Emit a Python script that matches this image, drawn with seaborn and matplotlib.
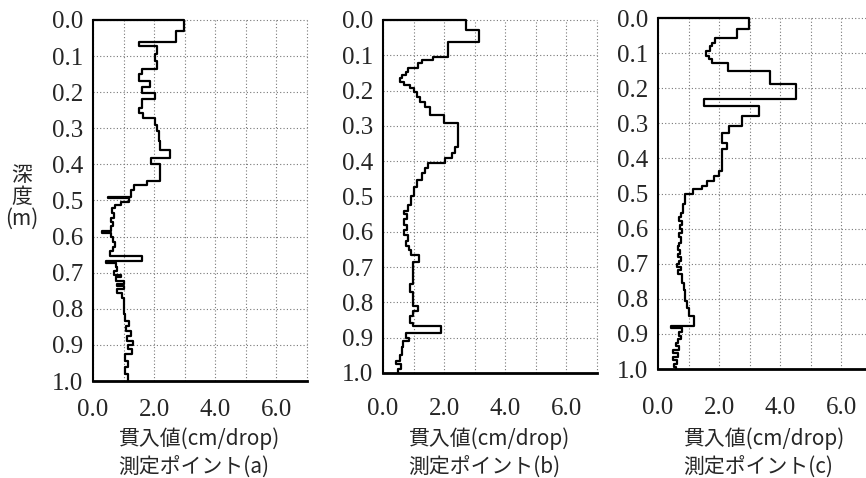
"""
Cone penetration profiles (depth vs penetration per drop) at three points.
"""
import matplotlib
matplotlib.use('Agg')
import matplotlib.pyplot as plt
import matplotlib.transforms as mtransforms
import seaborn as sns

# depth (m) where each reading starts, and penetration value (cm/drop)
depth_a = [0.000, 0.031, 0.060, 0.072, 0.095, 0.114, 0.137, 0.151, 0.169, 0.185,
           0.202, 0.220, 0.243, 0.257, 0.271, 0.290, 0.308, 0.336, 0.360, 0.382,
           0.400, 0.445, 0.458, 0.470, 0.489, 0.493, 0.503, 0.512, 0.522, 0.535,
           0.548, 0.560, 0.572, 0.585, 0.590, 0.602, 0.615, 0.628, 0.640, 0.653,
           0.668, 0.672, 0.685, 0.695, 0.705, 0.712, 0.722, 0.730, 0.738, 0.746,
           0.755, 0.770, 0.790, 0.815, 0.835, 0.848, 0.862, 0.875, 0.890, 0.900,
           0.912, 0.925, 0.945, 0.962, 0.980]
value_a = [2.97, 2.70, 1.52, 2.10, 2.02, 2.10, 1.61, 1.52, 1.88, 1.61,
           2.02, 1.61, 1.52, 1.64, 2.02, 2.10, 2.15, 2.20, 2.51, 1.90,
           2.20, 1.77, 1.34, 1.23, 0.50, 1.17, 0.90, 0.72, 0.62, 0.70,
           0.58, 0.66, 0.60, 0.28, 0.58, 0.66, 0.72, 0.64, 0.55, 1.61,
           0.44, 0.74, 0.80, 0.70, 0.92, 0.74, 1.00, 0.78, 1.02, 0.80,
           0.95, 1.00, 1.02, 1.06, 1.18, 1.08, 1.25, 1.12, 1.30, 1.15,
           1.26, 1.06, 1.16, 1.04, 1.14]

depth_b = [0.000, 0.027, 0.061, 0.104, 0.113, 0.123, 0.137, 0.146, 0.156, 0.165,
           0.175, 0.184, 0.193, 0.203, 0.217, 0.231, 0.246, 0.269, 0.291, 0.359,
           0.378, 0.392, 0.406, 0.420, 0.434, 0.453, 0.472, 0.500, 0.524, 0.540,
           0.550, 0.565, 0.580, 0.595, 0.610, 0.625, 0.640, 0.652, 0.666, 0.686,
           0.747, 0.771, 0.810, 0.824, 0.838, 0.857, 0.868, 0.888, 0.900, 0.910,
           0.925, 0.950, 0.965, 0.975, 0.990]
value_b = [2.73, 3.13, 2.14, 1.65, 1.27, 1.16, 0.83, 0.76, 0.61, 0.54,
           0.67, 0.89, 1.00, 1.11, 1.22, 1.38, 1.55, 1.99, 2.44, 2.37,
           2.26, 2.02, 1.46, 1.38, 1.27, 1.11, 1.00, 0.91, 0.83, 0.68,
           0.80, 0.70, 0.78, 0.70, 0.82, 0.74, 0.85, 0.90, 1.18, 0.98,
           0.89, 0.98, 1.16, 0.98, 0.89, 0.98, 1.88, 0.74, 0.86, 0.66,
           0.62, 0.55, 0.44, 0.60, 0.50]

depth_c = [0.000, 0.030, 0.057, 0.071, 0.080, 0.095, 0.109, 0.118, 0.128, 0.152,
           0.188, 0.232, 0.251, 0.280, 0.308, 0.327, 0.355, 0.374, 0.436, 0.450,
           0.464, 0.479, 0.488, 0.502, 0.531, 0.555, 0.568, 0.578, 0.590, 0.600,
           0.612, 0.625, 0.640, 0.650, 0.662, 0.672, 0.682, 0.692, 0.700, 0.708,
           0.718, 0.728, 0.740, 0.755, 0.775, 0.790, 0.805, 0.825, 0.848, 0.878,
           0.882, 0.895, 0.905, 0.915, 0.925, 0.935, 0.945, 0.955, 0.965, 0.975,
           0.985, 0.993]
value_c = [2.97, 2.59, 1.88, 1.78, 1.69, 1.58, 1.67, 1.78, 2.30, 3.67,
           4.51, 1.51, 3.29, 2.75, 2.32, 2.10, 2.26, 2.10, 1.99, 1.83,
           1.61, 1.45, 1.13, 0.89, 0.82, 0.76, 0.70, 0.80, 0.72, 0.80,
           0.70, 0.74, 0.70, 0.66, 0.72, 0.64, 0.74, 0.68, 0.62, 0.74,
           0.66, 0.78, 0.80, 0.84, 0.88, 0.90, 0.96, 1.02, 1.18, 0.42,
           0.80, 0.70, 0.76, 0.64, 0.58, 0.70, 0.50, 0.66, 0.48, 0.62,
           0.52, 0.58]

point_names = ['測定ポイント(a)', '測定ポイント(b)', '測定ポイント(c)']
x_ticks = [0, 1, 2, 3, 4, 5, 6, 7]
x_tick_labels = ['0.0', '', '2.0', '', '4.0', '', '6.0', '']
y_ticks = [0.0, 0.1, 0.2, 0.3, 0.4, 0.5, 0.6, 0.7, 0.8, 0.9, 1.0]
y_tick_labels = ['%.1f' % t for t in y_ticks]
x_title = '貫入値(cm/drop)'
y_title = '深\n度\n(m)'


def staircase(depths, values, bottom=1.0):
    """Turn (start depth, value) readings into a vertical step outline."""
    xs, ys = [0.0], [0.0]
    lows = list(depths[1:]) + [bottom]
    for v, top, low in zip(values, depths, lows):
        xs += [v, v]
        ys += [top, low]
    return xs, ys


sns.set_style('white')
plt.rcParams['font.family'] = ['Noto Sans CJK JP', 'DejaVu Sans']

fig = plt.figure(figsize=(8.66, 4.78), dpi=100)

# scanned original: each panel sits a little differently
panel_pos = [(0.1074, 0.2029, 0.2471, 0.7553),
             (0.4423, 0.2197, 0.2471, 0.7385),
             (0.7598, 0.2280, 0.2471, 0.7343)]
x_pads = [13, 18, 20]
profiles = [(depth_a, value_a), (depth_b, value_b), (depth_c, value_c)]

for pos, pad, (depths, values), name in zip(panel_pos, x_pads, profiles, point_names):
    ax = fig.add_axes(pos)
    xs, ys = staircase(depths, values)
    sns.lineplot(x=xs, y=ys, sort=False, estimator=None, ax=ax,
                 color='black', linewidth=1.6)
    ax.lines[-1].set_clip_on(False)

    ax.set_xlim(0, 7)
    ax.set_ylim(1.0, 0.0)
    ax.set_xticks(x_ticks)
    ax.set_xticklabels(x_tick_labels, fontfamily='Liberation Serif', fontsize=18)
    ax.set_yticks(y_ticks)
    ax.set_yticklabels(y_tick_labels, fontfamily='Liberation Serif', fontsize=18)
    ax.tick_params(axis='x', length=0, pad=pad)
    ax.tick_params(axis='y', length=0, pad=7)
    ax.set_xlabel('')
    ax.set_ylabel('')

    ax.grid(True, color='#777777', linestyle=(0, (1, 2)), linewidth=0.8)
    for gl in ax.get_xgridlines() + ax.get_ygridlines():
        gl.set_clip_on(False)

    for side in ['top', 'right']:
        ax.spines[side].set_visible(False)
    ax.spines['left'].set_color('black')
    ax.spines['left'].set_linewidth(1.5)
    ax.spines['bottom'].set_color('black')
    ax.spines['bottom'].set_linewidth(2.0)

    trans = mtransforms.blended_transform_factory(ax.transAxes, fig.transFigure)
    ax.text(0.12, 0.082, x_title, transform=trans, ha='left', va='center',
            fontsize=15)
    ax.text(0.12, 0.022, name, transform=trans, ha='left', va='center',
            fontsize=15)

fig.text(0.0254, 0.588, y_title, ha='center', va='center', fontsize=15,
         linespacing=1.0)

plt.savefig('out.png', dpi=100)
plt.close()
